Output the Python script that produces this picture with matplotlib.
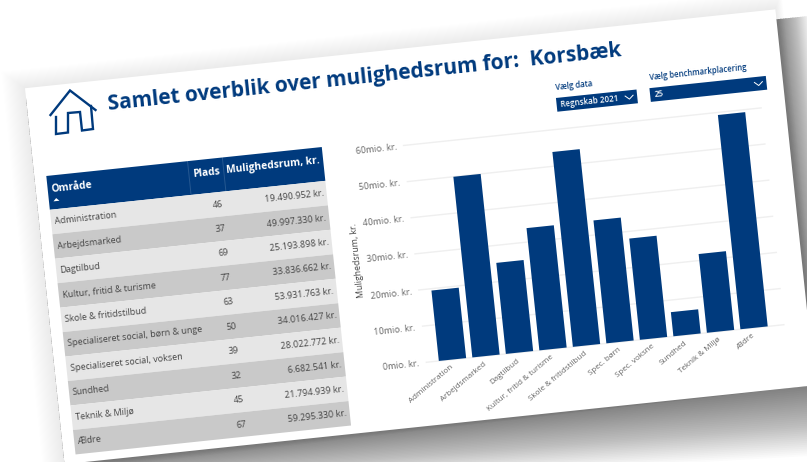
import matplotlib
matplotlib.use("Agg")
import matplotlib.pyplot as plt
from matplotlib.patches import Rectangle, Polygon
from matplotlib.lines import Line2D
from matplotlib.transforms import Affine2D

plt.rcParams['font.family'] = ['Open Sans', 'DejaVu Sans']

omraade = ["Administration", "Arbejdsmarked", "Dagtilbud", "Kultur, fritid & turisme",
           "Skole & fritidstilbud", "Specialiseret social, børn & unge",
           "Specialiseret social, voksen", "Sundhed", "Teknik & Miljø", "Ældre"]
short_names = ["Administration", "Arbejdsmarked", "Dagtilbud", "Kultur, fritid & turisme",
               "Skole & fritidstilbud", "Spec. børn", "Spec. voksne", "Sundhed",
               "Teknik & Miljø", "Ældre"]
plads = [46, 37, 69, 77, 63, 50, 39, 32, 45, 67]
mulighedsrum = [19490952, 49997330, 25193898, 33836662, 53931763,
                34016427, 28022772, 6682541, 21794939, 59295330]
y_ticks = [0, 10e6, 20e6, 30e6, 40e6, 50e6, 60e6]
y_tick_labels = ["0mio. kr.", "10mio. kr.", "20mio. kr.", "30mio. kr.",
                 "40mio. kr.", "50mio. kr.", "60mio. kr."]

NAVY = "#003A7D"
W, H = 807, 462
ANGLE = 6.0
fig = plt.figure(figsize=(W / 100, H / 100), dpi=100, facecolor="white")
R = Affine2D().rotate_deg_around(403.0, H - 231.0, ANGLE)

bg = fig.add_axes([0, 0, 1, 1], zorder=0)
bg.set_xlim(0, W)
bg.set_ylim(H, 0)
bg.axis("off")
S = bg.transData + R


def quad(x0, y0, x1, y1, **kw):
    p = Polygon([(x0, y0), (x1, y0), (x1, y1), (x0, y1)], closed=True, lw=0,
                transform=S, clip_on=False, **kw)
    bg.add_patch(p)
    return p


SX0, SY0, SX1, SY1 = 42, 49.5, 796.5, 427.5
# soft halo
N = 20
for i in range(N, 0, -1):
    t = i / N
    bg.add_patch(Polygon([(SX0 - 22 * t, SY0 - 19 * t), (SX1 + 8 * t, SY0 - 19 * t),
                          (SX1 + 8 * t, SY1), (SX0 - 22 * t, SY1 + 8 * t)],
                         closed=True, lw=0, fc="black", alpha=0.0045, transform=S, clip_on=False))
# cast shadow
N = 36
for i in range(N, 0, -1):
    t = i / N
    bg.add_patch(Polygon([(SX0, SY0 + 10), (SX1 + 34 * t, SY0 + 10), (SX1 + 34 * t, SY1 + 72 * t),
                          (SX0, SY1 + 34 * t)],
                         closed=True, lw=0, fc="black", alpha=0.017, transform=S, clip_on=False))
quad(SX0, SY0, SX1, SY1, fc="white", zorder=2)


def txt(x, y, s, **kw):
    kw.setdefault("rotation", ANGLE)
    kw.setdefault("rotation_mode", "anchor")
    kw.setdefault("va", "center")
    return bg.text(x, y, s, transform=S, clip_on=False, zorder=4, **kw)


# title and icon
txt(123, 74.3, "Samlet overblik over mulighedsrum for:  Korsbæk", color=NAVY,
    fontsize=15.0, fontweight="bold")
img = Affine2D().scale(1, -1).translate(0, H)
house = [(50.5, 115), (70, 90.5), (95.5, 110)]
body = [(56, 117), (56, 134), (68, 132.5), (68, 113), (80, 112), (82, 130.5), (93, 129), (91, 106)]
for pts in (house, body):
    fig.add_artist(Line2D([p[0] for p in pts], [p[1] for p in pts], color=NAVY, lw=1.7,
                          transform=img, zorder=5, solid_joinstyle="miter"))

# slicers
for x0, x1, label, value in [(569, 650, "Vælg data", "Regnskab 2021"),
                             (663, 780, "Vælg benchmarkplacering", "25")]:
    txt(x0 + 1, 104, label, color=NAVY, fontsize=5.6, fontweight="semibold")
    quad(x0, 114.7, x1, 128.5, fc=NAVY, zorder=3)
    txt(x0 + 4, 121.8, value, color="white", fontsize=5.8, fontweight="semibold")
    bg.plot([x1 - 12, x1 - 8, x1 - 4], [120, 123.5, 120], color="white", lw=0.7,
            transform=S, clip_on=False, zorder=4)

# table
TX0, TX1, TY0, TY1, TY2 = 54, 331, 139, 173, 419
quad(TX0, TY0, TX1, TY1, fc=NAVY, zorder=3)
for xs in (196, 231):
    bg.plot([xs, xs], [TY0, TY1], color="white", alpha=0.15, lw=0.7, transform=S, clip_on=False, zorder=4)
txt(57.5, 152.5, "Område", color="white", fontsize=7.4, fontweight="bold")
txt(227, 152.5, "Plads", color="white", fontsize=7.4, fontweight="bold", ha="right")
txt(328, 152.5, "Mulighedsrum, kr.", color="white", fontsize=7.4, fontweight="bold", ha="right")
bg.add_patch(Polygon([(58.5, 165), (61.5, 162), (64.5, 165)], closed=True, fc="white", lw=0,
                     transform=S, clip_on=False, zorder=4))
row_h = (TY2 - TY1) / len(omraade)
for i, name in enumerate(omraade):
    y = TY1 + i * row_h
    quad(TX0, y, TX1, y + row_h, fc="#E6E6E6" if i % 2 == 0 else "#C9C9C9", zorder=3)
    yc = y + row_h / 2
    txt(57.7, yc, name, color="#444444", fontsize=6.5)
    txt(227, yc, str(plads[i]), color="#444444", fontsize=6.5, ha="right")
    val = f"{mulighedsrum[i]:,}".replace(",", ".") + " kr."
    txt(328, yc, val, color="#444444", fontsize=6.5, ha="right")

# chart
AX0, AX1, AY0, AY60 = 412.5, 772.0, 364.0, 146.0
ax = fig.add_axes([AX0 / W, (H - AY0) / H, (AX1 - AX0) / W, (AY0 - AY60) / H], zorder=1)
ax.patch.set_visible(False)
for sp in ax.spines.values():
    sp.set_visible(False)
xpos = list(range(len(short_names)))
bars = ax.bar(xpos, mulighedsrum, width=0.815, color=NAVY, zorder=3)
ax.set_xlim(-0.78, 9.89)
ax.set_ylim(0, 60e6)
ax.set_xticks(xpos, short_names)
ax.set_yticks(y_ticks, y_tick_labels)
ax.tick_params(length=0, labelsize=5.8, labelcolor="#666666", pad=3)
ax.tick_params(axis="y", labelsize=6.5, pad=5)
ax.grid(axis="y", color="#EFEFEF", lw=1)
ax.set_axisbelow(True)
for b in bars:
    b.set_transform(ax.transData + R)
    b.set_clip_on(False)
shift = Affine2D().translate(-3, 0)
for t in ax.xaxis.get_major_ticks():
    t.label1.set_transform(t.label1.get_transform() + shift + R)
    t.label1.set_rotation(40)
    t.label1.set_rotation_mode("anchor")
    t.label1.set_ha("right")
    t.label1.set_va("top")
for t in ax.yaxis.get_major_ticks():
    t.label1.set_transform(t.label1.get_transform() + R)
    t.label1.set_rotation(ANGLE)
    t.label1.set_rotation_mode("anchor")
    t.gridline.set_transform(t.gridline.get_transform() + R)
    t.gridline.set_clip_on(False)
txt(355, 255, "Mulighedsrum, kr.", color="#444444", fontsize=6.3,
    rotation=90 + ANGLE, ha="center")

fig.savefig("out.png", dpi=100, facecolor="white")
